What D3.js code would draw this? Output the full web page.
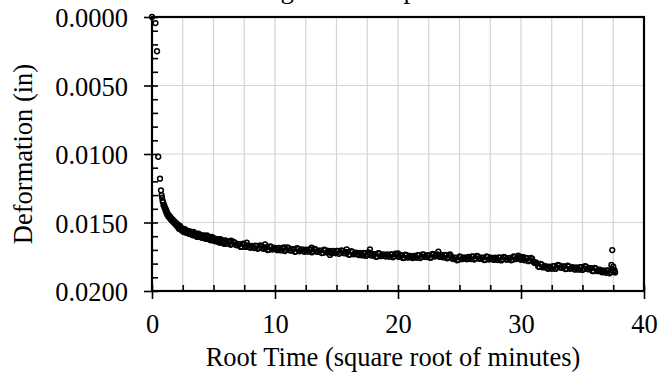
<!DOCTYPE html>
<html>
<head>
<meta charset="utf-8">
<script src="https://cdn.jsdelivr.net/npm/d3@7"></script>
<style>
  body { margin: 0; background: #fff; }
  svg { display: block; }
  text { font-family: "Liberation Serif", "Times New Roman", serif; fill: #000; }
</style>
</head>
<body>
<svg id="chart" width="671" height="377">
  <g id="grid"></g>
  <g id="points"></g>
  <g id="frame"></g>
  <g id="x_axis"></g>
  <g id="y_axis"></g>
  <text id="title"></text>
  <text id="x_label"></text>
  <text id="y_label"></text>
</svg>
<script>
// root time (sqrt of minutes) and deformation (in)
const rootTime = [
  0, 0.28, 0.41, 0.51, 0.65, 0.73, 0.78,
  0.82, 0.86, 0.90, 0.94, 0.98, 1.02, 1.06, 1.10, 1.14, 1.18,
  1.22, 1.26, 1.30, 1.35, 1.40, 1.45, 1.50, 1.55, 1.60, 1.66,
  1.72, 1.78, 1.84, 1.90, 1.96,
  2.02, 2.12, 2.22, 2.32, 2.42, 2.52, 2.62, 2.72, 2.82, 2.92,
  3.02, 3.12, 3.22, 3.32, 3.42, 3.52, 3.62, 3.72, 3.82, 3.92,
  4.02, 4.12, 4.22, 4.32, 4.42, 4.52, 4.62, 4.72, 4.82, 4.92,
  5.02, 5.12, 5.22, 5.32, 5.42, 5.52, 5.62, 5.72, 5.82, 5.92,
  6.1, 6.3, 6.5, 6.7, 6.9, 7.1, 7.3, 7.5, 7.7, 7.9,
  8.1, 8.3, 8.5, 8.7, 8.9, 9.1, 9.3, 9.5, 9.7, 9.9,
  10.1, 10.3, 10.5, 10.7, 10.9, 11.1, 11.3, 11.5, 11.7, 11.9,
  12.1, 12.3, 12.5, 12.7, 12.9, 13.1, 13.3, 13.5, 13.7, 13.9,
  14.1, 14.3, 14.5, 14.7, 14.9, 15.1, 15.3, 15.5, 15.7, 15.9,
  16.1, 16.3, 16.5, 16.7, 16.9, 17.1, 17.3, 17.5, 17.7, 17.9,
  18.1, 18.3, 18.5, 18.7, 18.9, 19.1, 19.3, 19.5, 19.7, 19.9,
  20.1, 20.3, 20.5, 20.7, 20.9, 21.1, 21.3, 21.5, 21.7, 21.9,
  22.1, 22.3, 22.5, 22.7, 22.9, 23.1, 23.3, 23.5, 23.7, 23.9,
  24.1, 24.3, 24.5, 24.7, 24.9, 25.1, 25.3, 25.5, 25.7, 25.9,
  26.1, 26.3, 26.5, 26.7, 26.9, 27.1, 27.3, 27.5, 27.7, 27.9,
  28.1, 28.3, 28.5, 28.7, 28.9, 29.1, 29.3, 29.5, 29.7, 29.9,
  30.1, 30.3, 30.5, 30.7, 30.9, 31.1, 31.3, 31.5, 31.7, 31.9,
  32.1, 32.3, 32.5, 32.7, 32.9, 33.1, 33.3, 33.5, 33.7, 33.9,
  34.1, 34.3, 34.5, 34.7, 34.9, 35.1, 35.3, 35.5, 35.7, 35.9,
  36.1, 36.3, 36.5, 36.7, 36.9, 37.1, 37.3,
  37.35, 37.4, 37.42, 37.5, 37.55, 37.6, 37.65,
  6.42, 7.7, 9.19, 10.73, 12.98, 14.47, 15.83, 17.72, 20.0, 23.28,
  24.23, 29.78, 30.16
]

const deformation = [
  0, 0.00044, 0.0025, 0.0102, 0.0118, 0.01265, 0.0130,
  0.01318, 0.01341, 0.01352, 0.01374, 0.01371, 0.01393, 0.01390, 0.01412, 0.01407, 0.01430,
  0.01424, 0.01445, 0.01439, 0.01458, 0.01450, 0.01469, 0.01461, 0.01480, 0.01471, 0.01490,
  0.01482, 0.01502, 0.01494, 0.01513, 0.01505,
  0.01525, 0.01518, 0.01545, 0.01534, 0.01558, 0.01545, 0.01568, 0.01555, 0.01576, 0.01561,
  0.01582, 0.01567, 0.01588, 0.01573, 0.01594, 0.01579, 0.01600, 0.01584, 0.01605, 0.01589,
  0.01609, 0.01594, 0.01614, 0.01598, 0.01618, 0.01602, 0.01623, 0.01607, 0.01627, 0.01611,
  0.01632, 0.01617, 0.01637, 0.01622, 0.01643, 0.01627, 0.01647, 0.01631, 0.01651, 0.01635,
  0.01656, 0.01641, 0.01656, 0.01645, 0.01666, 0.01658, 0.01677, 0.01659, 0.01672, 0.01679,
  0.01670, 0.01687, 0.01671, 0.01684, 0.01672, 0.01692, 0.01682, 0.01699, 0.01679, 0.01690,
  0.01696, 0.01686, 0.01704, 0.01687, 0.01699, 0.01686, 0.01705, 0.01695, 0.01712, 0.01692,
  0.01702, 0.01708, 0.01698, 0.01714, 0.01697, 0.01709, 0.01696, 0.01715, 0.01705, 0.01722,
  0.01702, 0.01712, 0.01718, 0.01708, 0.01725, 0.01708, 0.01720, 0.01707, 0.01726, 0.01716,
  0.01734, 0.01714, 0.01725, 0.01732, 0.01722, 0.01740, 0.01723, 0.01735, 0.01722, 0.01741,
  0.01731, 0.01748, 0.01728, 0.01738, 0.01744, 0.01733, 0.01750, 0.01733, 0.01745, 0.01732,
  0.01751, 0.01741, 0.01758, 0.01739, 0.01749, 0.01755, 0.01743, 0.01758, 0.01740, 0.01750,
  0.01735, 0.01752, 0.01740, 0.01755, 0.01732, 0.01739, 0.01744, 0.01736, 0.01755, 0.01739,
  0.01753, 0.01744, 0.01767, 0.01758, 0.01773, 0.01751, 0.01760, 0.01764, 0.01752, 0.01767,
  0.01749, 0.01761, 0.01747, 0.01766, 0.01756, 0.01772, 0.01752, 0.01762, 0.01767, 0.01757,
  0.01774, 0.01756, 0.01768, 0.01755, 0.01771, 0.01759, 0.01773, 0.01751, 0.01758, 0.01765,
  0.01757, 0.01776, 0.01760, 0.01774, 0.01763, 0.01795, 0.01799, 0.01824, 0.01808, 0.01822,
  0.01832, 0.01823, 0.01838, 0.01819, 0.01829, 0.01813, 0.01830, 0.01821, 0.01839, 0.01820,
  0.01831, 0.01838, 0.01828, 0.01844, 0.01826, 0.01837, 0.01823, 0.01842, 0.01834, 0.01854,
  0.01836, 0.01849, 0.01857, 0.01849, 0.01867, 0.01851, 0.01861,
  0.01810, 0.01845, 0.01701, 0.01822, 0.01859, 0.01847, 0.01865,
  0.01633, 0.01647, 0.01659, 0.01681, 0.01684, 0.01737, 0.01696, 0.01696, 0.01725, 0.01713,
  0.01732, 0.01742, 0.01752
]

// readings in between the ones above
const rootTimeB = [
  2.07, 2.17, 2.27, 2.37, 2.47, 2.57, 2.67, 2.77, 2.87, 2.97,
  3.07, 3.17, 3.27, 3.37, 3.47, 3.57, 3.67, 3.77, 3.87, 3.97,
  4.07, 4.17, 4.27, 4.37, 4.47, 4.57, 4.67, 4.77, 4.87, 4.97,
  5.07, 5.17, 5.27, 5.37, 5.47, 5.57, 5.67, 5.77, 5.87, 5.97,
  6.2, 6.4, 6.6, 6.8, 7.0, 7.2, 7.4, 7.6, 7.8, 8.0,
  8.2, 8.4, 8.6, 8.8, 9.0, 9.2, 9.4, 9.6, 9.8, 10.0,
  10.2, 10.4, 10.6, 10.8, 11.0, 11.2, 11.4, 11.6, 11.8, 12.0,
  12.2, 12.4, 12.6, 12.8, 13.0, 13.2, 13.4, 13.6, 13.8, 14.0,
  14.2, 14.4, 14.6, 14.8, 15.0, 15.2, 15.4, 15.6, 15.8, 16.0,
  16.2, 16.4, 16.6, 16.8, 17.0, 17.2, 17.4, 17.6, 17.8, 18.0,
  18.2, 18.4, 18.6, 18.8, 19.0, 19.2, 19.4, 19.6, 19.8, 20.0,
  20.2, 20.4, 20.6, 20.8, 21.0, 21.2, 21.4, 21.6, 21.8, 22.0,
  22.2, 22.4, 22.6, 22.8, 23.0, 23.2, 23.4, 23.6, 23.8, 24.0,
  24.2, 24.4, 24.6, 24.8, 25.0, 25.2, 25.4, 25.6, 25.8, 26.0,
  26.2, 26.4, 26.6, 26.8, 27.0, 27.2, 27.4, 27.6, 27.8, 28.0,
  28.2, 28.4, 28.6, 28.8, 29.0, 29.2, 29.4, 29.6, 29.8, 30.0,
  30.2, 30.4, 30.6, 30.8, 31.0, 31.2, 31.4, 31.6, 31.8, 32.0,
  32.2, 32.4, 32.6, 32.8, 33.0, 33.2, 33.4, 33.6, 33.8, 34.0,
  34.2, 34.4, 34.6, 34.8, 35.0, 35.2, 35.4, 35.6, 35.8, 36.0,
  36.2, 36.4, 36.6, 36.8, 37.0, 37.2
]

const deformationB = [
  0.01513, 0.01543, 0.01524, 0.01550, 0.01547, 0.01570, 0.01548, 0.01573, 0.01562, 0.01581,
  0.01575, 0.01568, 0.01592, 0.01568, 0.01591, 0.01585, 0.01605, 0.01581, 0.01604, 0.01592,
  0.01611, 0.01604, 0.01596, 0.01619, 0.01594, 0.01617, 0.01610, 0.01630, 0.01605, 0.01629,
  0.01618, 0.01636, 0.01630, 0.01623, 0.01646, 0.01621, 0.01643, 0.01636, 0.01656, 0.01631,
  0.01639, 0.01663, 0.01640, 0.01663, 0.01657, 0.01678, 0.01654, 0.01678, 0.01667, 0.01685,
  0.01678, 0.01669, 0.01692, 0.01667, 0.01689, 0.01682, 0.01701, 0.01675, 0.01697, 0.01685,
  0.01702, 0.01694, 0.01686, 0.01708, 0.01682, 0.01703, 0.01695, 0.01714, 0.01688, 0.01710,
  0.01697, 0.01714, 0.01705, 0.01696, 0.01718, 0.01692, 0.01713, 0.01705, 0.01724, 0.01698,
  0.01720, 0.01707, 0.01724, 0.01716, 0.01707, 0.01729, 0.01703, 0.01724, 0.01716, 0.01735,
  0.01710, 0.01732, 0.01720, 0.01738, 0.01730, 0.01722, 0.01744, 0.01718, 0.01739, 0.01731,
  0.01750, 0.01724, 0.01746, 0.01733, 0.01749, 0.01741, 0.01732, 0.01754, 0.01728, 0.01749,
  0.01741, 0.01760, 0.01734, 0.01757, 0.01744, 0.01760, 0.01750, 0.01739, 0.01760, 0.01732,
  0.01751, 0.01741, 0.01758, 0.01729, 0.01748, 0.01733, 0.01751, 0.01745, 0.01737, 0.01761,
  0.01738, 0.01763, 0.01757, 0.01776, 0.01748, 0.01768, 0.01754, 0.01769, 0.01759, 0.01748,
  0.01770, 0.01743, 0.01764, 0.01756, 0.01774, 0.01748, 0.01770, 0.01756, 0.01773, 0.01765,
  0.01755, 0.01777, 0.01751, 0.01770, 0.01760, 0.01776, 0.01748, 0.01767, 0.01753, 0.01772,
  0.01766, 0.01758, 0.01782, 0.01758, 0.01786, 0.01792, 0.01822, 0.01802, 0.01828, 0.01819,
  0.01838, 0.01830, 0.01819, 0.01839, 0.01810, 0.01829, 0.01820, 0.01840, 0.01815, 0.01838,
  0.01826, 0.01844, 0.01835, 0.01825, 0.01846, 0.01819, 0.01840, 0.01833, 0.01854, 0.01831,
  0.01855, 0.01845, 0.01864, 0.01857, 0.01849, 0.01871
]

const xTicks = [0, 10, 20, 30, 40]
const yTicks = [0, 0.005, 0.010, 0.015, 0.020]
const titleText = "Settling Time Graph"
const xLabelText = "Root Time (square root of minutes)"
const yLabelText = "Deformation (in)"

const FONT = 26.5

function make_scales(margin) {
  return {
    x: d3.scaleLinear().domain([0, 40]).range([margin.left, margin.right]),
    y: d3.scaleLinear().domain([0, 0.02]).range([margin.top, margin.bottom])
  }
}

function draw_grid(scales) {
  let xMinor = d3.range(2.5, 40, 2.5)
  let g = d3.select("#grid")
  g.selectAll("line.vx").data(xMinor).enter().append("line")
    .attr("class", "vx")
    .attr("x1", d => scales.x(d)).attr("x2", d => scales.x(d))
    .attr("y1", scales.y(0)).attr("y2", scales.y(0.02))
    .attr("stroke", "#d4d4d4").attr("stroke-width", 1.2)
  g.selectAll("line.hy").data(yTicks.slice(1, -1)).enter().append("line")
    .attr("class", "hy")
    .attr("x1", scales.x(0)).attr("x2", scales.x(40))
    .attr("y1", d => scales.y(d)).attr("y2", d => scales.y(d))
    .attr("stroke", "#d4d4d4").attr("stroke-width", 1.2)
}

function draw_axes(scales) {
  let x0 = scales.x(0), y0 = scales.y(0.02)

  let ax = d3.select("#x_axis")
  // major ticks hanging below, with labels
  ax.append("g")
    .attr("transform", `translate(0, ${y0})`)
    .call(d3.axisBottom(scales.x).tickValues(xTicks).tickSize(8).tickSizeOuter(0).tickPadding(15).tickFormat(d3.format("d")))
  // minor ticks inside
  ax.append("g")
    .attr("transform", `translate(0, ${y0})`)
    .call(d3.axisTop(scales.x).tickValues(d3.range(0, 40.1, 2.5)).tickSize(6).tickSizeOuter(0).tickFormat(""))

  let ay = d3.select("#y_axis")
  ay.append("g")
    .attr("transform", `translate(${x0}, 0)`)
    .call(d3.axisLeft(scales.y).tickValues(yTicks).tickSize(8).tickSizeOuter(0).tickPadding(16).tickFormat(d3.format(".4f")))
  ay.append("g")
    .attr("transform", `translate(${x0}, 0)`)
    .call(d3.axisRight(scales.y).tickValues(d3.range(0, 0.02001, 0.001)).tickSize(6).tickSizeOuter(0).tickFormat(""))

  d3.selectAll("#x_axis path.domain, #y_axis path.domain").remove()
  d3.selectAll("#x_axis line, #y_axis line").attr("stroke", "#000").attr("stroke-width", 1.6)
  d3.selectAll("#x_axis text, #y_axis text")
    .style("font-family", '"Liberation Serif", "Times New Roman", serif')
    .style("font-size", FONT + "px")
    .attr("fill", "#000")
  d3.selectAll("#y_axis text").attr("dy", "0.36em")

  // plot frame
  d3.select("#frame").append("rect")
    .attr("x", x0).attr("y", scales.y(0))
    .attr("width", scales.x(40) - x0).attr("height", y0 - scales.y(0))
    .attr("fill", "none").attr("stroke", "#000").attr("stroke-width", 2.2)

  d3.select("#x_label")
    .attr("x", (scales.x(0) + scales.x(40)) / 2 - 5)
    .attr("y", 366)
    .attr("text-anchor", "middle")
    .style("font-size", FONT + "px")
    .text(xLabelText)

  d3.select("#y_label")
    .attr("transform", `translate(32, ${(scales.y(0) + y0) / 2}) rotate(-90)`)
    .attr("text-anchor", "middle")
    .style("font-size", FONT + "px")
    .text(yLabelText)

  // title sits mostly above the visible area
  d3.select("#title")
    .attr("x", 210)
    .attr("y", -2)
    .style("font-size", "27px")
    .text(titleText)
}

function draw_points(scales) {
  let data = rootTime.map((t, i) => ({t: t, d: deformation[i]}))
    .concat(rootTimeB.map((t, i) => ({t: t, d: deformationB[i]})))
  d3.select("#points")
    .selectAll("circle")
    .data(data).enter()
    .append("circle")
    .attr("cx", d => scales.x(d.t))
    .attr("cy", d => scales.y(d.d))
    .attr("r", 2.4)
    .attr("fill", "none")
    .attr("stroke", "#000")
    .attr("stroke-width", 1.5)
}

let margin = {left: 152, right: 644, top: 17, bottom: 291}
let scales = make_scales(margin)
draw_grid(scales)
draw_points(scales)
draw_axes(scales)
</script>
</body>
</html>
